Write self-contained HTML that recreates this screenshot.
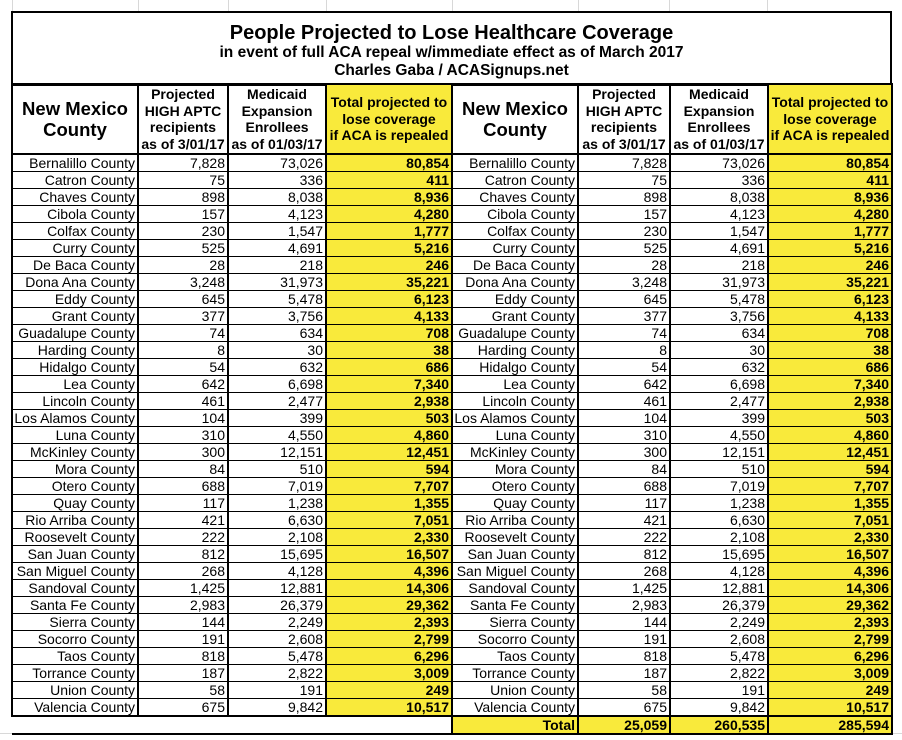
<!DOCTYPE html>
<html><head><meta charset="utf-8">
<style>
body{margin:0;width:902px;height:740px;background:#fff;position:relative;overflow:hidden;font-family:"Liberation Sans",Arial,sans-serif;}
.gl{position:absolute;background:#d8d8d8;}
#title{position:absolute;left:11px;top:11px;width:877px;height:71px;border:2px solid #000;text-align:center;font-weight:bold;}
#title .t1{font-size:20px;margin-top:9px;line-height:22px;}
#title .t2{font-size:15.5px;line-height:18px;}
table{position:absolute;left:11px;top:83px;border-collapse:collapse;table-layout:fixed;}
td{border-left:2px solid #000;border-right:2px solid #000;border-top:1px solid #000;border-bottom:1px solid #000;padding:0 2px 0 0;height:16px;line-height:16px;font-size:14px;text-align:right;white-space:nowrap;overflow:hidden;}
tr.h td{height:68px;border-top:2px solid #000;border-bottom:2px solid #000;text-align:center;font-weight:bold;font-size:14px;line-height:16.5px;padding:0;}
tr.h td.nm{font-size:18.5px;line-height:21px;}
td.y{background:#f9ea3b;font-weight:bold;}
tr.tot td{border-bottom:2px solid #000;border-top:2px solid #000;font-weight:bold;}
td.e{border:none;}
</style></head><body>
<div class="gl" style="left:12px;top:0;width:1px;height:12px"></div>
<div class="gl" style="left:138px;top:0;width:1px;height:12px"></div>
<div class="gl" style="left:228px;top:0;width:1px;height:12px"></div>
<div class="gl" style="left:326px;top:0;width:1px;height:12px"></div>
<div class="gl" style="left:452px;top:0;width:1px;height:12px"></div>
<div class="gl" style="left:578px;top:0;width:1px;height:12px"></div>
<div class="gl" style="left:669px;top:0;width:1px;height:12px"></div>
<div class="gl" style="left:767px;top:0;width:1px;height:12px"></div>
<div class="gl" style="left:0;top:733px;width:902px;height:1px"></div>
<div id="title"><div class="t1">People Projected to Lose Healthcare Coverage</div><div class="t2">in event of full ACA repeal w/immediate effect as of March 2017</div><div class="t2">Charles Gaba / ACASignups.net</div></div>
<table>
<colgroup><col style="width:126px"><col style="width:90px"><col style="width:98px"><col style="width:126px"><col style="width:126px"><col style="width:92px"><col style="width:98px"><col style="width:124px"></colgroup>
<tr class="h"><td class="nm">New Mexico<br>County</td><td>Projected<br>HIGH APTC<br>recipients<br>as of 3/01/17</td><td>Medicaid<br>Expansion<br>Enrollees<br>as of 01/03/17</td><td class="y">Total projected to<br>lose coverage<br>if ACA is repealed</td><td class="nm">New Mexico<br>County</td><td>Projected<br>HIGH APTC<br>recipients<br>as of 3/01/17</td><td>Medicaid<br>Expansion<br>Enrollees<br>as of 01/03/17</td><td class="y">Total projected to<br>lose coverage<br>if ACA is repealed</td></tr>
<tr><td>Bernalillo County</td><td>7,828</td><td>73,026</td><td class="y">80,854</td><td>Bernalillo County</td><td>7,828</td><td>73,026</td><td class="y">80,854</td></tr>
<tr><td>Catron County</td><td>75</td><td>336</td><td class="y">411</td><td>Catron County</td><td>75</td><td>336</td><td class="y">411</td></tr>
<tr><td>Chaves County</td><td>898</td><td>8,038</td><td class="y">8,936</td><td>Chaves County</td><td>898</td><td>8,038</td><td class="y">8,936</td></tr>
<tr><td>Cibola County</td><td>157</td><td>4,123</td><td class="y">4,280</td><td>Cibola County</td><td>157</td><td>4,123</td><td class="y">4,280</td></tr>
<tr><td>Colfax County</td><td>230</td><td>1,547</td><td class="y">1,777</td><td>Colfax County</td><td>230</td><td>1,547</td><td class="y">1,777</td></tr>
<tr><td>Curry County</td><td>525</td><td>4,691</td><td class="y">5,216</td><td>Curry County</td><td>525</td><td>4,691</td><td class="y">5,216</td></tr>
<tr><td>De Baca County</td><td>28</td><td>218</td><td class="y">246</td><td>De Baca County</td><td>28</td><td>218</td><td class="y">246</td></tr>
<tr><td>Dona Ana County</td><td>3,248</td><td>31,973</td><td class="y">35,221</td><td>Dona Ana County</td><td>3,248</td><td>31,973</td><td class="y">35,221</td></tr>
<tr><td>Eddy County</td><td>645</td><td>5,478</td><td class="y">6,123</td><td>Eddy County</td><td>645</td><td>5,478</td><td class="y">6,123</td></tr>
<tr><td>Grant County</td><td>377</td><td>3,756</td><td class="y">4,133</td><td>Grant County</td><td>377</td><td>3,756</td><td class="y">4,133</td></tr>
<tr><td>Guadalupe County</td><td>74</td><td>634</td><td class="y">708</td><td>Guadalupe County</td><td>74</td><td>634</td><td class="y">708</td></tr>
<tr><td>Harding County</td><td>8</td><td>30</td><td class="y">38</td><td>Harding County</td><td>8</td><td>30</td><td class="y">38</td></tr>
<tr><td>Hidalgo County</td><td>54</td><td>632</td><td class="y">686</td><td>Hidalgo County</td><td>54</td><td>632</td><td class="y">686</td></tr>
<tr><td>Lea County</td><td>642</td><td>6,698</td><td class="y">7,340</td><td>Lea County</td><td>642</td><td>6,698</td><td class="y">7,340</td></tr>
<tr><td>Lincoln County</td><td>461</td><td>2,477</td><td class="y">2,938</td><td>Lincoln County</td><td>461</td><td>2,477</td><td class="y">2,938</td></tr>
<tr><td>Los Alamos County</td><td>104</td><td>399</td><td class="y">503</td><td>Los Alamos County</td><td>104</td><td>399</td><td class="y">503</td></tr>
<tr><td>Luna County</td><td>310</td><td>4,550</td><td class="y">4,860</td><td>Luna County</td><td>310</td><td>4,550</td><td class="y">4,860</td></tr>
<tr><td>McKinley County</td><td>300</td><td>12,151</td><td class="y">12,451</td><td>McKinley County</td><td>300</td><td>12,151</td><td class="y">12,451</td></tr>
<tr><td>Mora County</td><td>84</td><td>510</td><td class="y">594</td><td>Mora County</td><td>84</td><td>510</td><td class="y">594</td></tr>
<tr><td>Otero County</td><td>688</td><td>7,019</td><td class="y">7,707</td><td>Otero County</td><td>688</td><td>7,019</td><td class="y">7,707</td></tr>
<tr><td>Quay County</td><td>117</td><td>1,238</td><td class="y">1,355</td><td>Quay County</td><td>117</td><td>1,238</td><td class="y">1,355</td></tr>
<tr><td>Rio Arriba County</td><td>421</td><td>6,630</td><td class="y">7,051</td><td>Rio Arriba County</td><td>421</td><td>6,630</td><td class="y">7,051</td></tr>
<tr><td>Roosevelt County</td><td>222</td><td>2,108</td><td class="y">2,330</td><td>Roosevelt County</td><td>222</td><td>2,108</td><td class="y">2,330</td></tr>
<tr><td>San Juan County</td><td>812</td><td>15,695</td><td class="y">16,507</td><td>San Juan County</td><td>812</td><td>15,695</td><td class="y">16,507</td></tr>
<tr><td>San Miguel County</td><td>268</td><td>4,128</td><td class="y">4,396</td><td>San Miguel County</td><td>268</td><td>4,128</td><td class="y">4,396</td></tr>
<tr><td>Sandoval County</td><td>1,425</td><td>12,881</td><td class="y">14,306</td><td>Sandoval County</td><td>1,425</td><td>12,881</td><td class="y">14,306</td></tr>
<tr><td>Santa Fe County</td><td>2,983</td><td>26,379</td><td class="y">29,362</td><td>Santa Fe County</td><td>2,983</td><td>26,379</td><td class="y">29,362</td></tr>
<tr><td>Sierra County</td><td>144</td><td>2,249</td><td class="y">2,393</td><td>Sierra County</td><td>144</td><td>2,249</td><td class="y">2,393</td></tr>
<tr><td>Socorro County</td><td>191</td><td>2,608</td><td class="y">2,799</td><td>Socorro County</td><td>191</td><td>2,608</td><td class="y">2,799</td></tr>
<tr><td>Taos County</td><td>818</td><td>5,478</td><td class="y">6,296</td><td>Taos County</td><td>818</td><td>5,478</td><td class="y">6,296</td></tr>
<tr><td>Torrance County</td><td>187</td><td>2,822</td><td class="y">3,009</td><td>Torrance County</td><td>187</td><td>2,822</td><td class="y">3,009</td></tr>
<tr><td>Union County</td><td>58</td><td>191</td><td class="y">249</td><td>Union County</td><td>58</td><td>191</td><td class="y">249</td></tr>
<tr><td style="border-bottom:2px solid #000">Valencia County</td><td style="border-bottom:2px solid #000">675</td><td style="border-bottom:2px solid #000">9,842</td><td class="y" style="border-bottom:2px solid #000">10,517</td><td>Valencia County</td><td>675</td><td>9,842</td><td class="y">10,517</td></tr>
<tr class="tot"><td class="e"></td><td class="e"></td><td class="e"></td><td class="e" style="border-right:2px solid #000"></td><td class="y">Total</td><td class="y">25,059</td><td class="y">260,535</td><td class="y">285,594</td></tr>
</table>
</body></html>
